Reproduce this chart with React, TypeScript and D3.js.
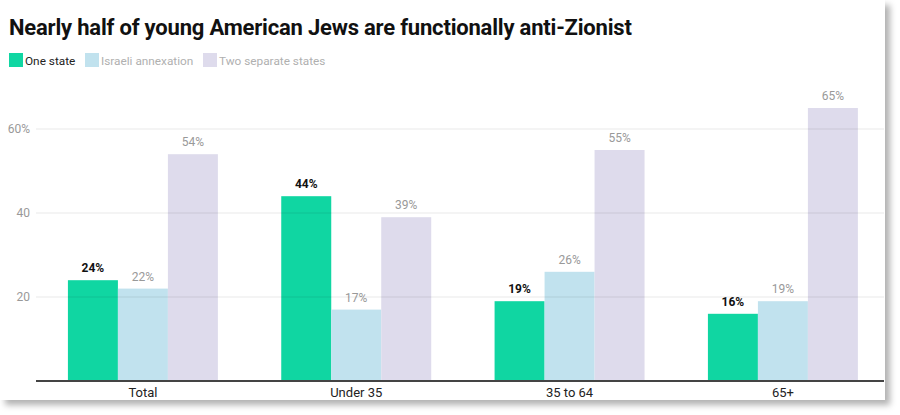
import { useMemo } from 'react';
import * as d3 from 'd3';

const categories = ['Total', 'Under 35', '35 to 64', '65+'];
const seriesNames = ['One state', 'Israeli annexation', 'Two separate states'];
const oneState = [24, 44, 19, 16];
const annexation = [22, 17, 26, 19];
const twoStates = [54, 39, 55, 65];
const yTicks = [20, 40, 60];

const COLORS = ['#10d6a2', '#c1e2ee', '#dedbec'];

const W = 900;
const H = 415;
const CARD_W = 885;
const CARD_H = 400;
const M = { left: 36, right: CARD_W - 1, top: 129, bottom: 381 };

export default function App() {
  const series = [oneState, annexation, twoStates];

  const x = useMemo(
    () =>
      d3
        .scaleBand<string>()
        .domain(categories)
        .range([M.left, M.right])
        .paddingInner(0.297)
        .paddingOuter(0.136)
        .align(0.55),
    []
  );
  const xi = useMemo(
    () => d3.scaleBand<number>().domain([0, 1, 2]).range([0, x.bandwidth()]),
    [x]
  );
  const y = useMemo(() => d3.scaleLinear().domain([0, 60]).range([M.bottom, M.top]), []);

  const font = 'Roboto, "Noto Sans", sans-serif';

  // legend layout
  const legendX = [9, 85, 203];

  return (
    <svg width={W} height={H} style={{ display: 'block', fontFamily: font }}>
      <style>{`body{margin:0}`}</style>
      <defs>
        <filter id="shadow" x="-5%" y="-5%" width="115%" height="120%">
          <feDropShadow dx="5" dy="5" stdDeviation="3" floodColor="#000" floodOpacity="0.3" />
        </filter>
      </defs>
      <rect x={0} y={0} width={CARD_W} height={CARD_H} fill="#fff" filter="url(#shadow)" />

      <text x={9} y={35} fontSize={22} fontWeight={700} fill="#111" letterSpacing={-0.2}>
        Nearly half of young American Jews are functionally anti-Zionist
      </text>

      {seriesNames.map((name, i) => (
        <g key={name} transform={`translate(${legendX[i]},53)`}>
          <rect width={14} height={14} fill={COLORS[i]} />
          <text x={16} y={11.5} fontSize={11.8} fill={i === 0 ? '#222' : '#b0b0b0'}>
            {name}
          </text>
        </g>
      ))}

      {categories.map((c, ci) => (
        <g key={c} transform={`translate(${x(c)},0)`}>
          {series.map((s, si) => (
            <g key={si}>
              <rect
                x={xi(si)}
                y={y(s[ci])}
                width={xi.bandwidth()}
                height={y(0) - y(s[ci])}
                fill={COLORS[si]}
              />
              <text
                x={(xi(si) ?? 0) + xi.bandwidth() / 2}
                y={y(s[ci]) - 8}
                textAnchor="middle"
                fontSize={12}
                fontWeight={si === 0 ? 700 : 400}
                fill={si === 0 ? '#111' : '#999'}
              >
                {s[ci]}%
              </text>
            </g>
          ))}
        </g>
      ))}

      {yTicks.map(t => (
        <g key={t}>
          <line x1={M.left} x2={M.right} y1={y(t)} y2={y(t)} stroke="#000" strokeOpacity={0.09} />
          <text x={30} y={y(t)} dy="0.35em" textAnchor="end" fontSize={12} fill="#999">
            {t === 60 ? `${t}%` : t}
          </text>
        </g>
      ))}

      <line x1={M.left} x2={M.right} y1={y(0)} y2={y(0)} stroke="#444" strokeWidth={2} />

      {categories.map(c => (
        <text
          key={c}
          x={(x(c) ?? 0) + x.bandwidth() / 2}
          y={397}
          textAnchor="middle"
          fontSize={13}
          fill="#222"
        >
          {c}
        </text>
      ))}
    </svg>
  );
}
